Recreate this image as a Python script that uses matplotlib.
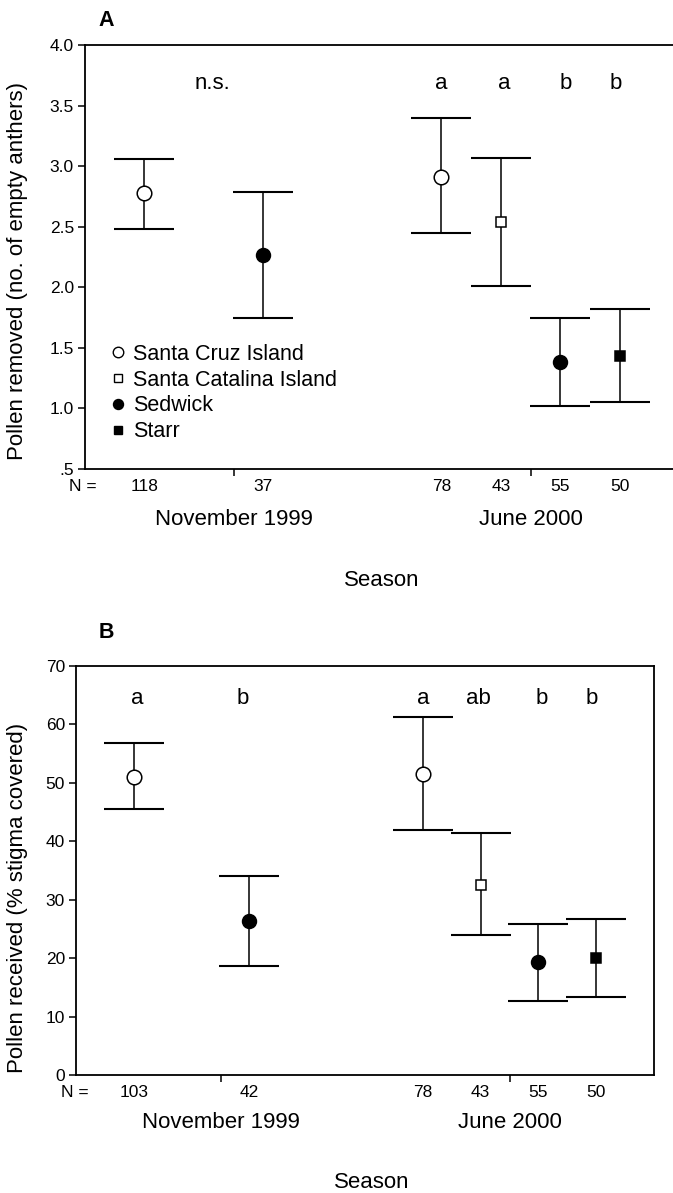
import matplotlib.pyplot as plt
from matplotlib.lines import Line2D

plt.rcParams['font.family'] = ['Liberation Sans', 'DejaVu Sans']

# groups: Nov 1999 (Santa Cruz, Sedwick), June 2000 (Santa Cruz, Catalina, Sedwick, Starr)
sites = ['Santa Cruz Island', 'Sedwick', 'Santa Cruz Island', 'Santa Catalina Island', 'Sedwick', 'Starr']
legend_sites = ['Santa Cruz Island', 'Santa Catalina Island', 'Sedwick', 'Starr']
seasons = ['November 1999', 'June 2000']

# panel A: pollen removed
removed_mean = [2.78, 2.27, 2.91, 2.54, 1.38, 1.43]
removed_low = [2.48, 1.75, 2.45, 2.01, 1.02, 1.05]
removed_high = [3.06, 2.79, 3.40, 3.07, 1.75, 1.82]
removed_n = ['118', '37', '78', '43', '55', '50']
removed_letters = ['n.s.', 'a', 'a', 'b', 'b']

# panel B: pollen received
received_mean = [51.0, 26.4, 51.6, 32.5, 19.3, 20.1]
received_low = [45.5, 18.7, 42.0, 23.9, 12.6, 13.4]
received_high = [56.9, 34.1, 61.3, 41.4, 25.9, 26.7]
received_n = ['103', '42', '78', '43', '55', '50']
received_letters = ['a', 'b', 'a', 'ab', 'b', 'b']

# layout
xpos = [1, 3, 6, 7, 8, 9]
season_ticks = [2.5, 7.5]
marker_style = {
    'Santa Cruz Island': dict(marker='o', mfc='white', ms=10.5),
    'Santa Catalina Island': dict(marker='s', mfc='white', ms=7.5),
    'Sedwick': dict(marker='o', mfc='black', ms=10),
    'Starr': dict(marker='s', mfc='black', ms=7.5),
}
W, H = 673, 1193

fig = plt.figure(figsize=(W / 100, H / 100), dpi=100)
axA = fig.add_axes([85 / W, 1 - 469 / H, 594 / W, 424 / H])
axB = fig.add_axes([76 / W, 1 - 1075 / H, 578 / W, 409 / H])


def draw_panel(ax, mean, low, high, nvals, letters, letter_x, letter_y,
               ylim, yticks, yticklabels, ylabel, label_xy, n_y, season_y, n_x):
    for x, m, lo, hi, s in zip(xpos, mean, low, high, sites):
        ax.errorbar([x], [m], yerr=[[m - lo], [hi - m]], fmt='none', ecolor='black',
                    elinewidth=1.1, capsize=21.5, capthick=1.5, zorder=2)
        ax.plot([x], [m], linestyle='none', mec='black', mew=1.1, zorder=3, **marker_style[s])
    for x, t in zip(letter_x, letters):
        ax.text(x, letter_y, t, ha='center', va='center', fontsize=16)
    ax.set_xlim(0, 10)
    ax.set_ylim(*ylim)
    ax.set_yticks(yticks)
    ax.set_yticklabels(yticklabels, fontsize=12.5)
    ax.set_xticks(season_ticks)
    ax.set_xticklabels([])
    ax.tick_params(direction='out', length=5, width=1.1, pad=3)
    for sp in ax.spines.values():
        sp.set_linewidth(1.3)
    ax.set_ylabel(ylabel, fontsize=16, va='center')
    ax.yaxis.set_label_coords(*label_xy)
    # N row under the axis
    ax.text(n_x, n_y, 'N =', transform=ax.transAxes, ha='left', va='center', fontsize=12.5)
    for x, n in zip(xpos, nvals):
        ax.text(x, n_y, n, transform=ax.get_xaxis_transform(), ha='center', va='center', fontsize=12.5)
    for x, s in zip(season_ticks, seasons):
        ax.text(x, season_y, s, transform=ax.get_xaxis_transform(), ha='center', va='center',
                fontsize=16)


draw_panel(axA, removed_mean, removed_low, removed_high, removed_n, removed_letters,
           [2.14, 6.0, 7.06, 8.1, 8.94], 3.68,
           (0.5, 4.0), [0.5, 1.0, 1.5, 2.0, 2.5, 3.0, 3.5, 4.0],
           ['.5', '1.0', '1.5', '2.0', '2.5', '3.0', '3.5', '4.0'],
           'Pollen removed (no. of empty anthers)', (-0.113, 0.467), -0.042, -0.12, -0.027)
axA.spines['right'].set_visible(False)

draw_panel(axB, received_mean, received_low, received_high, received_n, received_letters,
           [1.06, 2.88, 6.0, 6.96, 8.06, 8.92], 64.4,
           (0, 70), [0, 10, 20, 30, 40, 50, 60, 70],
           ['0', '10', '20', '30', '40', '50', '60', '70'],
           'Pollen received (% stigma covered)', (-0.102, 0.433), -0.044, -0.117, -0.026)

fig.text(106 / W, 1 - 20 / H, 'A', fontsize=15.5, fontweight='bold', ha='center', va='center')
fig.text(106 / W, 1 - 633 / H, 'B', fontsize=15.5, fontweight='bold', ha='center', va='center')
fig.text(382 / W, 1 - 580 / H, 'Season', ha='center', va='center', fontsize=16)
fig.text(372 / W, 1 - 1182 / H, 'Season', ha='center', va='center', fontsize=16)

# legend in panel A
handles = [Line2D([], [], linestyle='none', mec='black', mew=1.0,
                  **dict(marker_style[s], ms=marker_style[s]['ms'] * 0.72))
           for s in legend_sites]
axA.legend(handles, legend_sites, loc='upper left', bbox_to_anchor=(0.044, 0.295),
           frameon=False, fontsize=15.5, handlelength=0.6, handletextpad=0.4,
           labelspacing=0.22, borderpad=0, borderaxespad=0)

fig.savefig('out.png', dpi=100)
